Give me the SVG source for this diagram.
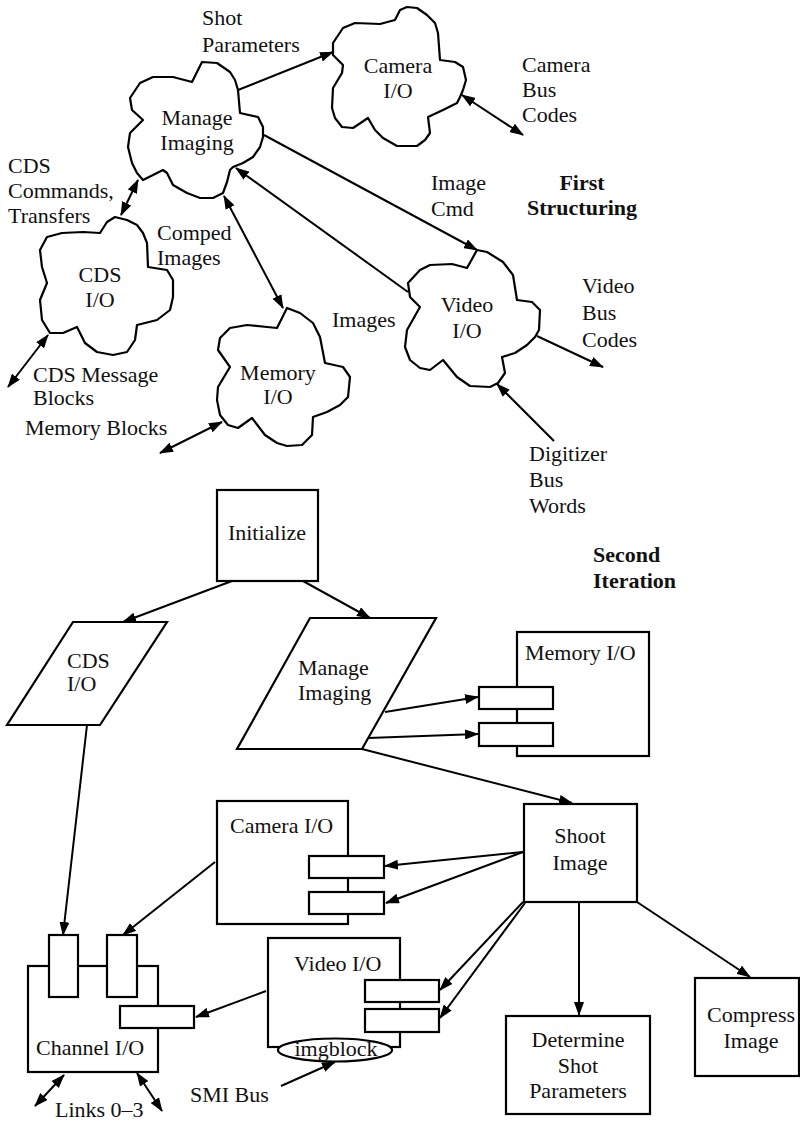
<svg xmlns="http://www.w3.org/2000/svg" width="800" height="1122" viewBox="0 0 800 1122">
  <style>
    text { font-family: "Liberation Serif", "DejaVu Serif", serif; font-size: 22px; fill: #111; }
    .b { font-weight: bold; }
    .m { text-anchor: middle; }
    .cloud { fill: #fff; stroke: #000; stroke-width: 2.2; stroke-linejoin: round; }
    .box { fill: #fff; stroke: #000; stroke-width: 2.2; }
    .port { fill: #fff; stroke: #000; stroke-width: 2.2; }
    .c { fill: none; stroke: #000; stroke-width: 2; }
    .a { marker-end: url(#head); }
    .aa { marker-start: url(#head); marker-end: url(#head); }
  </style>
  <defs>
    <marker id="head" markerUnits="userSpaceOnUse" markerWidth="14" markerHeight="10" refX="13" refY="5" orient="auto-start-reverse" viewBox="0 0 14 10">
      <path d="M0,0 L14,5 L0,10 Z" fill="#000"/>
    </marker>
  </defs>
  <rect width="800" height="1122" fill="#fff"/>

  <!-- connectors -->
  <g id="connectors">
    <!-- first structuring -->
    <line class="c a" x1="238" y1="90" x2="333" y2="52"/>
    <line class="c aa" x1="462" y1="95" x2="523" y2="135"/>
    <line class="c a" x1="264" y1="135" x2="477" y2="250"/>
    <line class="c a" x1="408" y1="292" x2="236" y2="168"/>
    <line class="c aa" x1="224" y1="196" x2="283" y2="308"/>
    <line class="c aa" x1="138" y1="180" x2="121" y2="215"/>
    <line class="c aa" x1="48" y1="335" x2="8" y2="387"/>
    <line class="c aa" x1="222" y1="422" x2="160" y2="453"/>
    <line class="c a" x1="537" y1="336" x2="603" y2="367"/>
    <line class="c a" x1="554" y1="441" x2="497" y2="384"/>
    <!-- second iteration -->
    <line class="c a" x1="232" y1="581" x2="123" y2="622"/>
    <line class="c a" x1="303" y1="581" x2="370" y2="618"/>
    <line class="c a" x1="87" y1="725" x2="63" y2="935"/>
    <line class="c a" x1="385" y1="712" x2="478" y2="697"/>
    <line class="c a" x1="368" y1="738" x2="478" y2="734"/>
    <line class="c a" x1="362" y1="749" x2="572" y2="803"/>
    <line class="c a" x1="523" y1="852" x2="385" y2="866"/>
    <line class="c a" x1="523" y1="852" x2="386" y2="903"/>
    <line class="c a" x1="523" y1="902" x2="440" y2="990"/>
    <line class="c a" x1="525" y1="903" x2="440" y2="1018"/>
    <line class="c a" x1="579" y1="902" x2="579" y2="1015"/>
    <line class="c a" x1="637" y1="902" x2="750" y2="977"/>
    <line class="c a" x1="215" y1="862" x2="123" y2="935"/>
    <line class="c a" x1="266" y1="991" x2="196" y2="1017"/>
    <line class="c a" x1="281" y1="1086" x2="335" y2="1062"/>
    <line class="c aa" x1="64" y1="1075" x2="35" y2="1106"/>
    <line class="c aa" x1="137" y1="1073" x2="162" y2="1111"/>
  </g>

  <!-- first structuring: cloud processes -->
  <g id="manage-imaging-cloud">
    <path class="cloud" d="M192,82 L202,62 L217,63 L230,72 L235,80 L238,90 L240,113 L258,117 L263,127 L263,137 L260,147 L253,157 L243,163 L233,167 L230,170 L227,182 L223,193 L213,198 L200,198 L187,193 L173,185 L167,173 L163,170 L143,180 L137,173 L132,163 L128,147 L130,133 L143,120 L132,110 L130,98 L140,83 L153,77 L173,77 Z"/>
    <text class="m" x="197" y="125">Manage</text>
    <text class="m" x="197" y="150">Imaging</text>
  </g>
  <g id="camera-io-cloud">
    <path class="cloud" d="M355,23 L380,24 L395,20 L400,10 L407,7 L417,8 L427,15 L435,23 L438,33 L440,60 L455,62 L463,67 L466,80 L463,90 L460,97 L457,103 L443,110 L428,117 L430,133 L425,140 L417,146 L397,146 L383,138 L375,130 L368,118 L353,128 L342,127 L335,118 L332,108 L333,88 L342,73 L343,65 L333,55 L333,43 L343,28 Z"/>
    <text class="m" x="398" y="73">Camera</text>
    <text class="m" x="398" y="98">I/O</text>
  </g>
  <g id="cds-io-cloud">
    <path class="cloud" d="M100,233 L107,222 L115,217 L127,220 L137,225 L143,233 L147,243 L148,267 L167,270 L173,280 L173,297 L170,310 L157,320 L137,325 L135,340 L127,352 L113,355 L97,352 L85,343 L77,327 L63,333 L50,333 L42,320 L40,300 L47,283 L42,267 L40,250 L47,237 L62,233 L83,232 Z"/>
    <text class="m" x="100" y="282">CDS</text>
    <text class="m" x="100" y="307">I/O</text>
  </g>
  <g id="memory-io-cloud">
    <path class="cloud" d="M277,328 L287,308 L300,313 L313,323 L320,337 L325,363 L343,367 L350,377 L348,397 L340,405 L327,412 L313,417 L312,435 L302,445 L287,446 L277,443 L265,435 L252,418 L238,428 L228,425 L220,415 L217,400 L218,387 L230,367 L218,350 L220,338 L230,328 L247,325 L267,327 Z"/>
    <text class="m" x="278" y="380">Memory</text>
    <text class="m" x="278" y="404">I/O</text>
  </g>
  <g id="video-io-cloud">
    <path class="cloud" d="M467,268 L477,250 L487,252 L503,262 L513,275 L517,300 L532,302 L540,310 L539,330 L535,337 L527,345 L515,353 L502,357 L505,373 L498,383 L490,387 L470,386 L457,377 L443,360 L430,370 L420,368 L410,360 L405,347 L407,330 L420,307 L410,297 L408,283 L420,270 L430,265 L452,264 Z"/>
    <text class="m" x="467" y="312">Video</text>
    <text class="m" x="467" y="338">I/O</text>
  </g>

  <!-- first structuring: flow labels -->
  <g id="labels-first">
    <text x="202" y="25">Shot</text>
    <text x="202" y="52">Parameters</text>
    <text x="522" y="72">Camera</text>
    <text x="522" y="97">Bus</text>
    <text x="522" y="122">Codes</text>
    <text x="431" y="190">Image</text>
    <text x="431" y="216">Cmd</text>
    <text class="b m" x="582" y="190">First</text>
    <text class="b m" x="582" y="215">Structuring</text>
    <text x="8" y="173">CDS</text>
    <text x="8" y="198">Commands,</text>
    <text x="8" y="223">Transfers</text>
    <text x="157" y="240">Comped</text>
    <text x="157" y="265">Images</text>
    <text x="332" y="327">Images</text>
    <text x="582" y="293">Video</text>
    <text x="582" y="320">Bus</text>
    <text x="582" y="347">Codes</text>
    <text x="33" y="382">CDS Message</text>
    <text x="33" y="405">Blocks</text>
    <text x="25" y="435">Memory Blocks</text>
    <text x="529" y="461">Digitizer</text>
    <text x="529" y="487">Bus</text>
    <text x="529" y="513">Words</text>
  </g>

  <!-- second iteration -->
  <g id="initialize">
    <rect class="box" x="217" y="490" width="101" height="91"/>
    <text class="m" x="267" y="540">Initialize</text>
  </g>
  <text class="b" x="593" y="562">Second</text>
  <text class="b" x="593" y="588">Iteration</text>

  <g id="cds-io">
    <polygon class="box" points="73,622 167,622 100,725 7,725"/>
    <text x="67" y="668">CDS</text>
    <text x="67" y="691">I/O</text>
  </g>
  <g id="manage-imaging">
    <polygon class="box" points="310,618 436,618 362,749 237,749"/>
    <text x="298" y="675">Manage</text>
    <text x="298" y="700">Imaging</text>
  </g>
  <g id="memory-io">
    <rect class="box" x="517" y="632" width="132" height="124"/>
    <text x="525" y="660">Memory I/O</text>
    <rect class="port" x="479" y="687" width="74" height="22"/>
    <rect class="port" x="479" y="723" width="74" height="23"/>
  </g>
  <g id="camera-io">
    <rect class="box" x="217" y="801" width="131" height="123"/>
    <text x="230" y="833">Camera I/O</text>
    <rect class="port" x="309" y="856" width="75" height="22"/>
    <rect class="port" x="309" y="892" width="75" height="22"/>
  </g>
  <g id="shoot-image">
    <rect class="box" x="524" y="804" width="113" height="98"/>
    <text class="m" x="580" y="843">Shoot</text>
    <text class="m" x="580" y="870">Image</text>
  </g>
  <g id="channel-io">
    <rect class="box" x="28" y="966" width="130" height="106"/>
    <rect class="port" x="49" y="935" width="29" height="62"/>
    <rect class="port" x="107" y="935" width="30" height="62"/>
    <rect class="port" x="120" y="1006" width="74" height="22"/>
    <text x="36" y="1055">Channel I/O</text>
  </g>
  <g id="video-io">
    <rect class="box" x="268" y="938" width="132" height="109"/>
    <text x="294" y="971">Video I/O</text>
    <rect class="port" x="365" y="980" width="74" height="22"/>
    <rect class="port" x="365" y="1009" width="74" height="23"/>
    <ellipse class="port" cx="335" cy="1050" rx="57" ry="11.5"/>
    <text class="m" x="336" y="1056">imgblock</text>
  </g>
  <g id="determine-shot-parameters">
    <rect class="box" x="506" y="1016" width="144" height="98"/>
    <text class="m" x="578" y="1047">Determine</text>
    <text class="m" x="578" y="1073">Shot</text>
    <text class="m" x="578" y="1098">Parameters</text>
  </g>
  <g id="compress-image">
    <rect class="box" x="695" y="978" width="104" height="98"/>
    <text class="m" x="751" y="1022">Compress</text>
    <text class="m" x="751" y="1048">Image</text>
  </g>
  <g id="labels-second">
    <text x="190" y="1102">SMI Bus</text>
    <text x="55" y="1117">Links 0–3</text>
  </g>
</svg>
